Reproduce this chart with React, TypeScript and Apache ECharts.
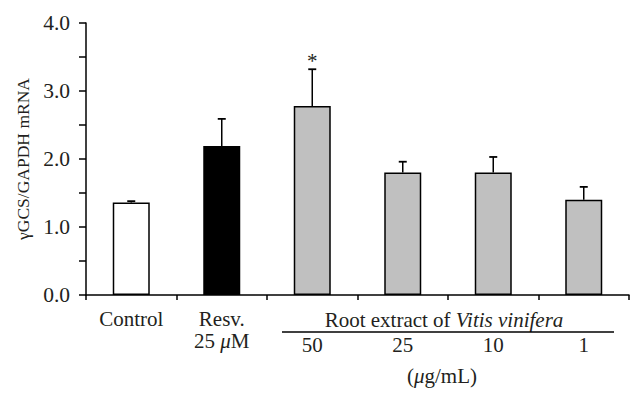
import React, { useEffect, useRef } from "react";
import * as echarts from "echarts";

const categories = ["Control", "Resv. 25 μM", "50", "25", "10", "1"];
const means = [1.36, 2.19, 2.78, 1.8, 1.8, 1.4];
const errorTops = [1.38, 2.59, 3.32, 1.96, 2.03, 1.59];
const significant = [false, false, true, false, false, false];
const barColors = ["#ffffff", "#000000", "#c0c0c0", "#c0c0c0", "#c0c0c0", "#c0c0c0"];
const yAxisTitle = "γGCS/GAPDH mRNA";
const groupTitle = "Root extract of ";
const groupTitleItalic = "Vitis vinifera";
const groupStart = 2;

const FONT = "'Liberation Serif', 'DejaVu Serif', serif";
const INK = "#231f20";
const FS = 21;

export default function App() {
  const ref = useRef<HTMLDivElement>(null);
  useEffect(() => {
    if (!ref.current) return;
    const chart = echarts.init(ref.current, null, { renderer: "svg" });
    const option: any = {
      animation: false,
      backgroundColor: "#ffffff",
      textStyle: { fontFamily: FONT, color: INK },
      grid: { left: 86, right: 15, top: 23, bottom: 105, containLabel: false },
      xAxis: {
        type: "category",
        data: categories,
        boundaryGap: true,
        axisLine: { lineStyle: { color: "#000", width: 1.5 } },
        axisTick: { show: true, inside: false, length: 5, alignWithLabel: false, lineStyle: { color: "#000", width: 1.5 } },
        axisLabel: {
          interval: 0,
          margin: 13,
          color: INK,
          fontFamily: FONT,
          fontSize: FS,
          lineHeight: 22,
          formatter: (v: string, i: number) => {
            if (i === 0) return v;
            if (i === 1) return "Resv.\n25 {it|μ}M";
            return "{sp|}\n{num|" + v + "}";
          },
          rich: {
            it: { fontStyle: "italic", fontFamily: FONT, fontSize: FS, color: INK, lineHeight: 22 },
            sp: { lineHeight: 26, fontSize: FS },
            num: { lineHeight: 22, fontSize: FS, fontFamily: FONT, color: INK },
          },
        },
      },
      yAxis: {
        type: "value",
        min: 0,
        max: 4,
        interval: 0.5,
        name: yAxisTitle,
        nameLocation: "middle",
        nameGap: 47,
        nameTextStyle: { fontFamily: FONT, fontSize: 17.5, color: INK },
        splitLine: { show: false },
        axisLine: { show: true, lineStyle: { color: "#000", width: 1.5 } },
        axisTick: { show: true, inside: false, length: 7, lineStyle: { color: "#000", width: 1.5 } },
        axisLabel: {
          margin: 16,
          fontFamily: FONT,
          fontSize: 21.5,
          color: INK,
          formatter: (v: number) => (Math.abs(v - Math.round(v)) < 1e-6 ? v.toFixed(1) : ""),
        },
      },
      series: [
        {
          type: "bar",
          barWidth: 37,
          data: means.map((m, i) => ({
            value: m,
            itemStyle: { color: barColors[i], borderColor: "#000", borderWidth: 1.5 },
          })),
          z: 2,
        },
        {
          type: "custom",
          z: 3,
          data: means.map((m, i) => [i, m, errorTops[i], significant[i] ? 1 : 0]),
          renderItem: (params: any, api: any) => {
            const idx = api.value(0);
            const base = api.coord([idx, api.value(1)]);
            const top = api.coord([idx, api.value(2)]);
            const half = 4;
            const children: any[] = [
              { type: "line", shape: { x1: base[0], y1: base[1], x2: top[0], y2: top[1] }, style: { stroke: "#000", lineWidth: 1.5 } },
              { type: "line", shape: { x1: top[0] - half, y1: top[1], x2: top[0] + half, y2: top[1] }, style: { stroke: "#000", lineWidth: 1.8 } },
            ];
            if (api.value(3) === 1) {
              children.push({
                type: "text",
                style: { text: "*", x: top[0], y: top[1] + 2, align: "center", verticalAlign: "bottom", fontSize: 21, fontFamily: FONT, fill: INK },
              });
            }
            return { type: "group", children };
          },
        },
      ],
    };
    chart.setOption(option);

    const c0 = chart.convertToPixel({ xAxisIndex: 0 }, groupStart) as number;
    const c1 = chart.convertToPixel({ xAxisIndex: 0 }, groupStart + 1) as number;
    const cLast = chart.convertToPixel({ xAxisIndex: 0 }, categories.length - 1) as number;
    const band = c1 - c0;
    const leftEdge = c0 - band / 2;
    const rightEdge = cLast + band / 2;
    const mid = (leftEdge + rightEdge) / 2;
    const y0 = chart.convertToPixel({ yAxisIndex: 0 }, 0) as number;

    chart.setOption({
      graphic: [
        {
          type: "text",
          x: mid - 4,
          y: y0 + 25,
          style: {
            text: groupTitle + "{it|" + groupTitleItalic + "}",
            align: "center",
            verticalAlign: "middle",
            fontFamily: FONT,
            fontSize: FS,
            fill: INK,
            rich: { it: { fontStyle: "italic", fontFamily: FONT, fontSize: FS, fill: INK } },
          },
        },
        {
          type: "line",
          shape: { x1: leftEdge + 15, y1: y0 + 37, x2: rightEdge - 15, y2: y0 + 37 },
          style: { stroke: "#000", lineWidth: 1.5 },
        },
        {
          type: "text",
          x: mid - 6,
          y: y0 + 81,
          style: {
            text: "({it|μ}g/mL)",
            align: "center",
            verticalAlign: "middle",
            fontFamily: FONT,
            fontSize: FS,
            fill: INK,
            rich: { it: { fontStyle: "italic", fontFamily: FONT, fontSize: FS, fill: INK } },
          },
        },
      ],
    });

    return () => chart.dispose();
  }, []);
  return <div ref={ref} style={{ width: 644, height: 400, position: "absolute", left: 0, top: 0 }} />;
}
